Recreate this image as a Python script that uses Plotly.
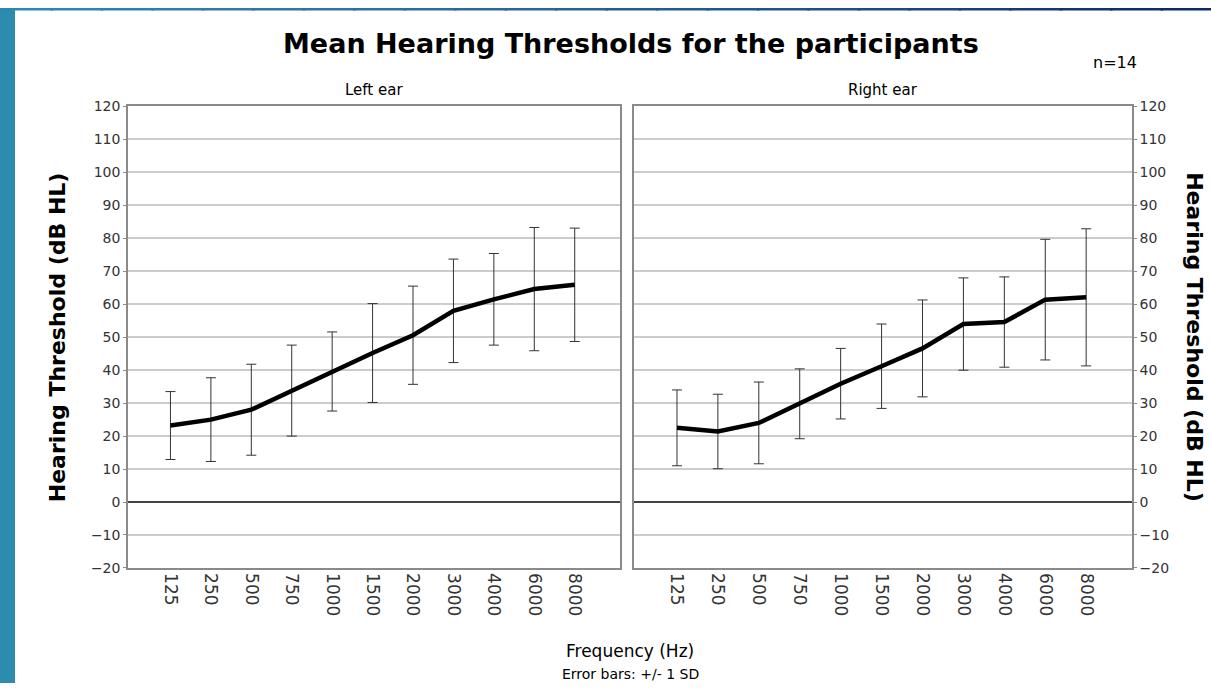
import plotly.graph_objects as go
from plotly.subplots import make_subplots

# data
freqs = ['125', '250', '500', '750', '1000', '1500', '2000', '3000', '4000', '6000', '8000']
left_mean = [23.2, 25.0, 28.0, 33.8, 39.6, 45.2, 50.6, 58.0, 61.5, 64.6, 65.9]
left_sd = [10.3, 12.7, 13.8, 13.8, 12.0, 15.0, 14.9, 15.7, 13.9, 18.7, 17.2]
right_mean = [22.5, 21.4, 24.0, 29.8, 35.9, 41.2, 46.6, 54.0, 54.6, 61.4, 62.1]
right_sd = [11.5, 11.3, 12.4, 10.6, 10.7, 12.8, 14.7, 14.0, 13.7, 18.3, 20.8]

W, H = 1211, 691
FONT = 'DejaVu Sans'
# the photo squeezes the page a little vertically; place things where they should land
Y_OFF, Y_SC = 7.4, 0.978


def px(x):
    return x / W


def py(y):
    return 1 - max((y - Y_OFF) / Y_SC, 0) / H


fig = make_subplots(rows=1, cols=2)

for col, (mean, sd) in enumerate([(left_mean, left_sd), (right_mean, right_sd)], start=1):
    fig.add_trace(
        go.Scatter(
            x=freqs, y=mean, mode='lines',
            line=dict(color='black', width=4.5),
            error_y=dict(type='data', array=sd, visible=True, color='#333333', thickness=1, width=5),
            showlegend=False, hoverinfo='skip'
        ),
        row=1, col=col
    )

# background band (blue slide border)
shapes = [dict(type='rect', xref='paper', yref='paper', x0=0, x1=px(15), y0=0, y1=1,
               fillcolor='#2b8cb0', line_width=0, layer='below')]
stops = [(0, (43, 140, 176)), (0.35, (42, 112, 156)), (0.7, (28, 80, 135)), (1.0, (12, 40, 95))]
n_seg = 24
for i in range(n_seg):
    t = (i + 0.5) / n_seg
    for (t0, c0), (t1, c1) in zip(stops[:-1], stops[1:]):
        if t0 <= t <= t1:
            f = (t - t0) / (t1 - t0)
            c = tuple(int(a + (b - a) * f) for a, b in zip(c0, c1))
    shapes.append(dict(type='rect', xref='paper', yref='paper', x0=i / n_seg, x1=(i + 1) / n_seg + 0.002,
                       y0=py(10), y1=1, fillcolor='rgb%s' % (c,), line_width=0, layer='below'))

xax = dict(range=[-1.05, 11.12], showgrid=False, showline=True, mirror=True, linecolor='#8a8a8a',
           linewidth=1.5, ticks='', tickangle=90, tickfont=dict(size=17, color='#333333', family=FONT))
yax = dict(range=[-20, 120], dtick=10, showgrid=True, gridcolor='#cccccc', gridwidth=1.5,
           zeroline=True, zerolinecolor='#444444', zerolinewidth=1.5, showline=True, mirror=True,
           linecolor='#8a8a8a', linewidth=1.5, ticks='outside', ticklen=3, tickcolor='#8a8a8a',
           tickfont=dict(size=14, color='#333333', family=FONT))

fig.update_layout(
    width=W, height=H, margin=dict(l=0, r=0, t=0, b=0),
    paper_bgcolor='white', plot_bgcolor='white',
    font=dict(family=FONT, color='black'),
    shapes=shapes,
    xaxis=dict(xax, domain=[px(128), px(620)]),
    xaxis2=dict(xax, domain=[px(634), px(1132)]),
    yaxis=dict(yax, domain=[py(568), py(106)]),
    yaxis2=dict(yax, domain=[py(568), py(106)], side='right', showticklabels=True),
)

annotations = [
    dict(text='<b>Mean Hearing Thresholds for the participants</b>', x=px(631), y=py(43), size=27),
    dict(text='Left ear', x=px(374), y=py(89), size=15),
    dict(text='Right ear', x=px(883), y=py(89), size=15),
    dict(text='n=14', x=px(1115), y=py(62), size=16),
    dict(text='Frequency (Hz)', x=px(630), y=py(651), size=17),
    dict(text='Error bars: +/- 1 SD', x=px(630), y=py(674), size=14),
    dict(text='<b>Hearing Threshold (dB HL)</b>', x=px(57), y=py(337), size=22, angle=-90),
    dict(text='<b>Hearing Threshold (dB HL)</b>', x=px(1195), y=py(337), size=22, angle=90),
]
for a in annotations:
    fig.add_annotation(
        text=a['text'], x=a['x'], y=a['y'], xref='paper', yref='paper',
        xanchor='center', yanchor='middle', showarrow=False, textangle=a.get('angle', 0),
        font=dict(size=a['size'], color='black', family=FONT)
    )

# pin the figure to the window's top-left corner, no page margin or scrolling
pin = (
    "document.documentElement.style.margin='0';document.body.style.margin='0';"
    "document.documentElement.style.overflow='hidden';document.body.style.overflow='hidden';"
    "var d=document.getElementById('{plot_id}');"
    "d.style.position='fixed';d.style.top='0px';d.style.left='0px';"
)
fig.write_html("out.html", config={'displayModeBar': False}, post_script=pin)
